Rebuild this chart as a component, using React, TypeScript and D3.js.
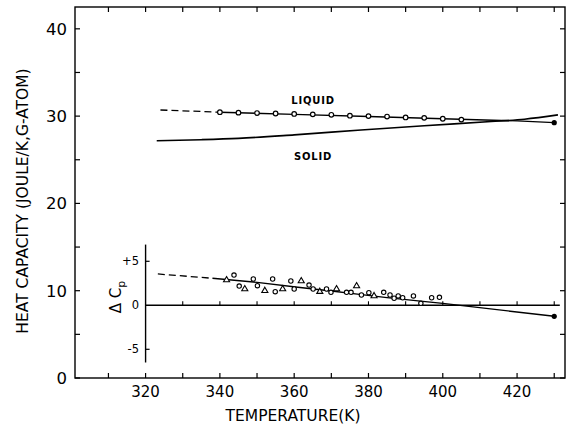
import React from "react";
import * as d3 from "d3";

// ---- data ----
const xTicksMajor = [320, 340, 360, 380, 400, 420];
const xTicksAll = [310, 320, 330, 340, 350, 360, 370, 380, 390, 400, 410, 420, 430];
const yTicksMajor = [0, 10, 20, 30, 40];
const yTicksAll = [0, 5, 10, 15, 20, 25, 30, 35, 40];
const insetTicks = [330, 340, 350, 360, 370, 380, 390, 400, 410, 420, 430];

const liquidDashT = [324, 340];
const liquidDashCp = [30.7, 30.45];
const liquidLineT = [340, 360, 380, 400, 420, 430];
const liquidLineCp = [30.45, 30.2, 29.95, 29.7, 29.45, 29.25];
const liquidPtsT = [340, 345, 350, 355, 360, 365, 370, 375, 380, 385, 390, 395, 400, 405];
const liquidPtsCp = [30.45, 30.4, 30.35, 30.3, 30.25, 30.2, 30.15, 30.05, 30.0, 29.95, 29.85, 29.8, 29.7, 29.6];

const solidT = [323, 335, 345, 360, 378, 395, 413, 422, 431];
const solidCp = [27.18, 27.3, 27.45, 27.85, 28.41, 28.9, 29.38, 29.65, 30.14];

const endT = 430;
const endLiquidCp = 29.25;

const dcDashT = [323.3, 338];
const dcDash = [3.56, 3.07];
const dcLineT = [338, 350, 361, 370, 377, 385, 394, 400, 430];
const dcLine = [3.07, 2.6, 2.05, 1.63, 1.27, 0.87, 0.47, 0.22, -1.25];
const dcEnd = -1.25;

const dcCircT = [343.8, 345.2, 349, 350.1, 354.2, 354.9, 359.1, 360, 364, 365.1, 368.7, 369.9, 374.1, 375.3, 378.1, 380.1, 384.1, 385.8, 386.9, 388, 389.2, 392.1, 394.1, 397, 399.1];
const dcCirc = [3.44, 2.19, 2.99, 2.23, 2.99, 1.55, 2.76, 1.85, 2.3, 1.85, 1.85, 1.48, 1.48, 1.48, 1.17, 1.43, 1.48, 1.17, 0.8, 1.06, 0.86, 1.06, 0.23, 0.86, 0.91];
const dcTriT = [341.8, 346.7, 352.1, 356.9, 361.9, 366.9, 371.4, 376.8, 381.5];
const dcTri = [2.87, 1.85, 1.66, 1.85, 2.76, 1.55, 1.85, 2.19, 1.06];

const FONT = "DejaVu Sans, sans-serif";

export default function App() {
  const x = d3.scaleLinear().domain([301, 432.9]).range([75, 565]);
  const y = d3.scaleLinear().domain([0, 42.5]).range([378, 7]);
  const yd = d3.scaleLinear().domain([-5, 5]).range([349.3, 261.3]);

  const zip = (a: number[], b: number[]) => a.map((v, i) => [v, b[i]] as [number, number]);
  const lineMain = d3.line<[number, number]>().x(d => x(d[0])).y(d => y(d[1]));
  const lineMainSmooth = d3.line<[number, number]>().x(d => x(d[0])).y(d => y(d[1])).curve(d3.curveMonotoneX);
  const lineIn = d3.line<[number, number]>().x(d => x(d[0])).y(d => yd(d[1]));
  const tri = d3.symbol().type(d3.symbolTriangle).size(16)() as string;

  const [x0, x1] = x.range();
  const [yb, yt] = y.range();

  return (
    <svg width={572} height={431} style={{ position: "absolute", left: 0, top: 0, background: "#fff" }} fontFamily={FONT}>
      <rect x={0} y={0} width={572} height={431} fill="#fff" />
      {/* frame */}
      <rect x={x0} y={yt} width={x1 - x0} height={yb - yt} fill="none" stroke="#000" strokeWidth={1.4} />
      {/* bottom/top ticks */}
      {xTicksAll.map(t => (
        <g key={"xt" + t}>
          <line x1={x(t)} x2={x(t)} y1={yb} y2={yb - 5} stroke="#000" strokeWidth={1.2} />
          <line x1={x(t)} x2={x(t)} y1={yt} y2={yt + 5} stroke="#000" strokeWidth={1.2} />
        </g>
      ))}
      {xTicksMajor.map(t => (
        <text key={"xl" + t} x={x(t)} y={397} fontSize={15} textAnchor="middle">{t}</text>
      ))}
      {/* left/right ticks */}
      {yTicksAll.map(v => (
        <g key={"yt" + v}>
          <line x1={x0} x2={x0 + 5} y1={y(v)} y2={y(v)} stroke="#000" strokeWidth={1.2} />
          <line x1={x1} x2={x1 - 5} y1={y(v)} y2={y(v)} stroke="#000" strokeWidth={1.2} />
        </g>
      ))}
      {yTicksMajor.map(v => (
        <text key={"yl" + v} x={67} y={y(v) + 6} fontSize={16.5} textAnchor="end">{v}</text>
      ))}
      <text x={293} y={421} fontSize={15.5} textAnchor="middle">TEMPERATURE(K)</text>
      <text transform={`translate(28,201) rotate(-90)`} fontSize={15.5} textAnchor="middle">HEAT CAPACITY (JOULE/K,G-ATOM)</text>

      {/* main curves */}
      <path d={lineMain(zip(liquidDashT, liquidDashCp)) || ""} fill="none" stroke="#000" strokeWidth={1.3} strokeDasharray="7,4" />
      <path d={lineMain(zip(liquidLineT, liquidLineCp)) || ""} fill="none" stroke="#000" strokeWidth={1.4} />
      <path d={lineMainSmooth(zip(solidT, solidCp)) || ""} fill="none" stroke="#000" strokeWidth={1.6} />
      {zip(liquidPtsT, liquidPtsCp).map((d, i) => (
        <circle key={"lp" + i} cx={x(d[0])} cy={y(d[1])} r={2.3} fill="#fff" stroke="#000" strokeWidth={1.2} />
      ))}
      <circle cx={x(endT)} cy={y(endLiquidCp)} r={2.6} fill="#000" />
      <text x={313} y={104} fontSize={10} fontWeight="bold" textAnchor="middle" letterSpacing={0.8}>LIQUID</text>
      <text x={313} y={160} fontSize={10} fontWeight="bold" textAnchor="middle" letterSpacing={0.8}>SOLID</text>

      {/* inset */}
      <line x1={x(320)} x2={x(320)} y1={yd(6.9)} y2={yd(-6.5)} stroke="#000" strokeWidth={1.4} />
      <line x1={x(320)} x2={x(431.5)} y1={yd(0)} y2={yd(0)} stroke="#000" strokeWidth={1.4} />
      {[5, -5].map(v => (
        <line key={"it" + v} x1={x(320)} x2={x(320) + 4} y1={yd(v)} y2={yd(v)} stroke="#000" strokeWidth={1.2} />
      ))}
      {insetTicks.map(t => (
        <line key={"ix" + t} x1={x(t)} x2={x(t)} y1={yd(0)} y2={yd(0) - 4} stroke="#000" strokeWidth={1.1} />
      ))}
      <text x={139} y={yd(5) + 4} fontSize={11.5} textAnchor="end">+5</text>
      <text x={139} y={yd(0) + 4} fontSize={11.5} textAnchor="end">0</text>
      <text x={139} y={yd(-5) + 4} fontSize={11.5} textAnchor="end">-5</text>
      <text transform={`translate(121,297) rotate(-90)`} fontSize={15} textAnchor="middle">
        Δ C<tspan fontSize={11} dy={4}>p</tspan>
      </text>
      <path d={lineIn(zip(dcDashT, dcDash)) || ""} fill="none" stroke="#000" strokeWidth={1.3} strokeDasharray="7,4" />
      <path d={lineIn(zip(dcLineT, dcLine)) || ""} fill="none" stroke="#000" strokeWidth={1.4} />
      {zip(dcCircT, dcCirc).map((d, i) => (
        <circle key={"dc" + i} cx={x(d[0])} cy={yd(d[1])} r={2.2} fill="#fff" stroke="#000" strokeWidth={1.1} />
      ))}
      {zip(dcTriT, dcTri).map((d, i) => (
        <path key={"dt" + i} d={tri} transform={`translate(${x(d[0])},${yd(d[1])})`} fill="#fff" stroke="#000" strokeWidth={1.1} />
      ))}
      <circle cx={x(endT)} cy={yd(dcEnd)} r={2.6} fill="#000" />
    </svg>
  );
}
